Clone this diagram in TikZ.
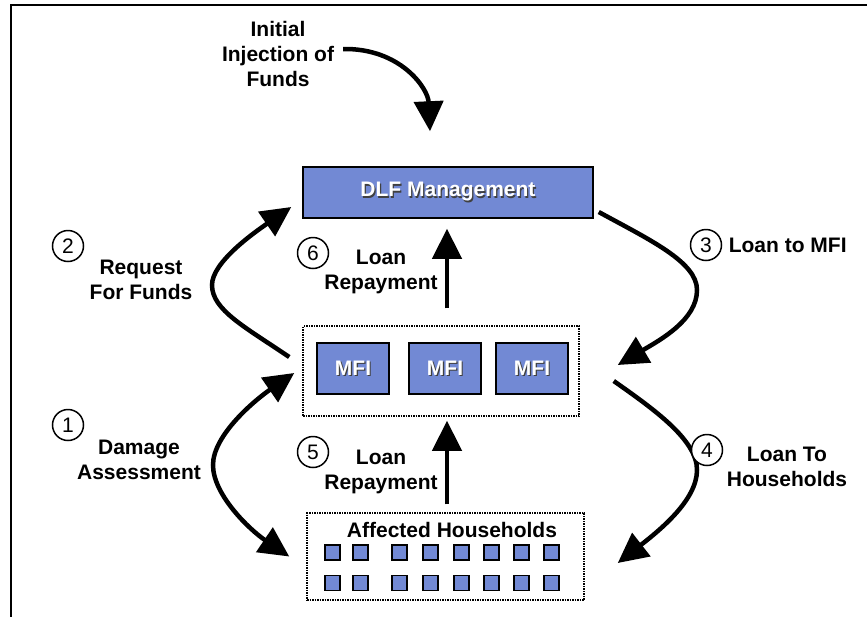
\documentclass[tikz,border=0pt]{standalone}
\usepackage{fontspec}
\setmainfont{Liberation Sans}
\usetikzlibrary{arrows.meta,positioning}
\definecolor{dlfblue}{RGB}{114,137,212}
\newcommand{\shadowed}[1]{\makebox[0pt][l]{\hspace{1.2pt}\raisebox{-1.2pt}{\color{black!75}#1}}{\color{white}#1}}

\begin{document}
\begin{tikzpicture}[
    x=1pt, y=-1pt,
    every node/.style={font=\fontsize{21}{25}\selectfont\bfseries},
    dlfbox/.style={draw, line width=1.5pt, fill=dlfblue, minimum width=290pt, minimum height=51pt},
    mfibox/.style={draw, line width=1.5pt, fill=dlfblue, minimum width=72pt, minimum height=51pt},
    grpbox/.style={draw, densely dotted, line width=1.5pt},
    hhsq/.style={draw, line width=1.5pt, fill=dlfblue, minimum size=15pt, inner sep=0pt},
    numcirc/.style={draw, circle, fill=white, line width=1.5pt, minimum size=31pt, inner sep=0pt, font=\fontsize{21}{25}\selectfont},
    lbl/.style={align=center},
    conn/.style={-{Triangle[length=30pt,width=29pt]}, line width=4.5pt},
    conntwo/.style={{Triangle[length=30pt,width=29pt]}-{Triangle[length=30pt,width=29pt]}, line width=4.5pt}
    ]
    \useasboundingbox (0,0) rectangle (867,616);
    \clip (0,0) rectangle (867,616);
    \draw [line width=2.5pt] (11,5) rectangle (885,635);

    % boxes
    \node [dlfbox] (dlf) at (448,192.5) {\shadowed{DLF Management}};
    \node [grpbox, minimum width=276pt, minimum height=90pt] (mfigrp) at (441,371) {};
    \foreach \x/\n in {353/a, 445/b, 532/c}
        \node [mfibox] (mfi\n) at (\x,368.5) {\shadowed{MFI}};
    \node [grpbox, minimum width=277pt, minimum height=87pt] (hh) at (445.5,556.5) {};
    \node (hhtitle) at (452,530) {Affected Households};
    \foreach \x [count=\i] in {332.5, 360.5, 399.5, 430.5, 461.5, 491.5, 521.5, 551.5} {
        \node [hhsq] (hh-\i-a) at (\x,552.5) {};
        \node [hhsq] (hh-\i-b) at (\x,583) {};
    }

    % texts
    \node [lbl] (inject) at (278,54) {Initial\\Injection of\\Funds};
    \node [lbl] (req) at (141,280) {Request\\For Funds};
    \node [lbl] (dmg) at (139,460) {Damage\\Assessment};
    \node [lbl] (rep6) at (381,272) {Loan\\Repayment};
    \node [lbl] (rep5) at (381,472) {Loan\\Repayment};
    \node [lbl] (tohh) at (787,467) {Loan To\\Households};

    % connectors
    \draw [conn] ([xshift=5.5pt,yshift=5pt]inject.east) .. controls (400,48) and (428,88) .. ([xshift=-18pt,yshift=35pt]dlf.north);
    \draw [conn] ([xshift=6pt,yshift=17pt]mfigrp.north) -- ([xshift=-1pt,yshift=-10pt]dlf.south);
    \draw [conn] ([xshift=1.5pt,yshift=8pt]hh.north) -- ([xshift=6pt,yshift=-4pt]mfigrp.south);
    \draw [conn] ([xshift=-13pt,yshift=14pt]mfigrp.west) .. controls (245,327) and (212,310) .. (212,285)
        .. controls (212,262) and (255,232) .. ([xshift=-11pt,yshift=-14.5pt]dlf.west);
    \draw [conntwo] ([xshift=-17pt]hh.west) .. controls (250,530) and (213,495) .. (213,465)
        .. controls (213,435) and (255,400) .. ([xshift=-8pt,yshift=-2pt]mfigrp.west);
    \draw [conn] ([xshift=5pt,yshift=-19.5pt]dlf.east) .. controls (650,240) and (697,262) .. (697,290)
        .. controls (697,320) and (660,340) .. ([xshift=38pt,yshift=6pt]mfigrp.east);
    \draw [conn] ([xshift=34pt,yshift=-10pt]mfigrp.east) .. controls (655,410) and (697,440) .. (697,470)
        .. controls (697,500) and (660,530) .. ([xshift=33pt,yshift=-6.5pt]hh.east);

    % step numbers
    \node [numcirc] (n1) at (68,425) {1};
    \node [numcirc] (n2) at (68,246) {2};
    \node [numcirc] (n3) at (706,245) {3};
    \node [numcirc] (n4) at (707,450) {4};
    \node [numcirc] (n5) at (313,452) {5};
    \node [numcirc] (n6) at (313,253) {6};
    \node [right=3pt of n3] (tomfi) {Loan to MFI};
\end{tikzpicture}
\end{document}
